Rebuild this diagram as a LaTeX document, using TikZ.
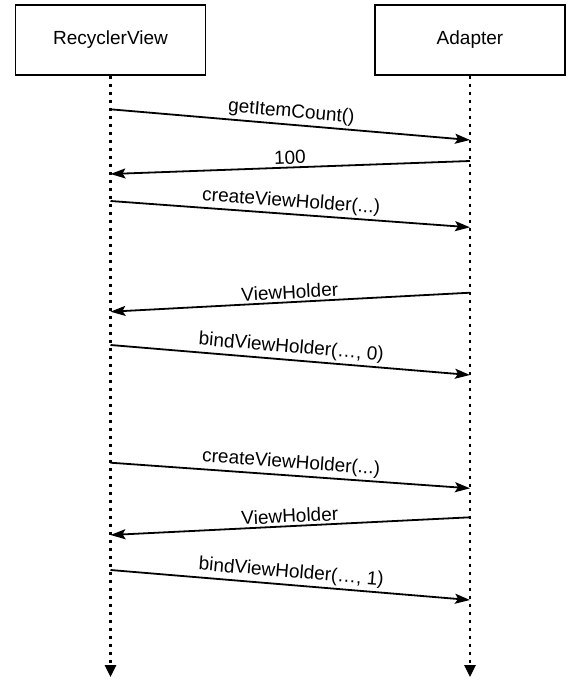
\documentclass[tikz,border=0pt]{standalone}
\usepackage{fontspec}
\setmainfont{Liberation Sans}
\usetikzlibrary{arrows.meta,positioning}

\begin{document}
\begin{tikzpicture}[x=1pt,y=-1pt,
    lane/.style={draw,line width=1.8pt,minimum width=190pt,minimum height=70pt,font=\fontsize{19}{21}\selectfont},
    life/.style={line width=2.6pt,dash pattern=on 2.6pt off 5.4pt,-{Triangle[width=11pt,length=12pt]}},
    msg/.style={line width=1.8pt,-{Stealth[length=15pt,width=10pt,inset=3pt]}},
    lbl/.style={font=\fontsize{19}{21}\selectfont,inner sep=2.5pt,above,sloped}]
      \useasboundingbox (0,0) rectangle (580,685);

      \node[lane] (rv) at (110.5,40) {RecyclerView};
      \node[lane] (ad) at (470,40) {Adapter};

      \coordinate (rvend) at (110.5,677);
      \coordinate (adend) at (470,677);
      \draw[life] (rv.south)--(rvend);
      \draw[life] (ad.south)--(adend);

      % message ends on the two lifelines
      \coordinate (rv1) at (110.5,109.3);
      \coordinate (ad1) at (470,140);
      \coordinate (ad2) at (470,161);
      \coordinate (rv2) at (110.5,174);
      \coordinate (rv3) at (110.5,201);
      \coordinate (ad3) at (470,227.3);
      \coordinate (ad4) at (470,292.7);
      \coordinate (rv4) at (110.5,311.7);
      \coordinate (rv5) at (110.5,345);
      \coordinate (ad5) at (470,375);
      \coordinate (rv6) at (110.5,462.7);
      \coordinate (ad6) at (470,488.3);
      \coordinate (ad7) at (470,517.3);
      \coordinate (rv7) at (110.5,535);
      \coordinate (rv8) at (110.5,570);
      \coordinate (ad8) at (470,600);

      \foreach \from/\to/\txt in {rv1/ad1/{getItemCount()},ad2/rv2/{100},rv3/ad3/{createViewHolder(...)},ad4/rv4/{ViewHolder},rv5/ad5/{bindViewHolder(…, 0)},rv6/ad6/{createViewHolder(...)},ad7/rv7/{ViewHolder},rv8/ad8/{bindViewHolder(…, 1)}}
      \draw[msg] (\from)--node[lbl] {\txt} (\to);
\end{tikzpicture}
\end{document}
